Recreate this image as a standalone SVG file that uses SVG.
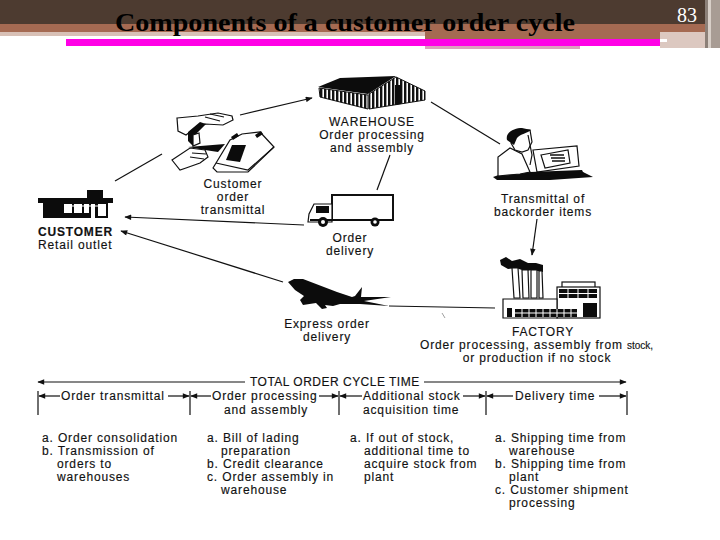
<svg xmlns="http://www.w3.org/2000/svg" width="720" height="540" viewBox="0 0 720 540">
<style>
.t{font-family:"Liberation Sans",Arial,sans-serif;font-size:12px;fill:#111;stroke:#111;stroke-width:.15px;letter-spacing:.85px}
.c{text-anchor:middle}
.l{stroke:#111;stroke-width:1.2;fill:none}
.a{marker-end:url(#ah)}
.k{fill:#0c0c0c}
.o{fill:#fff;stroke:#111;stroke-width:1.2}
</style>
<defs>
<marker id="ah" viewBox="0 0 10 8" refX="9" refY="4" markerWidth="8" markerHeight="5.5" orient="auto" markerUnits="userSpaceOnUse"><path d="M0 0L10 4L0 8Z" fill="#111"/></marker>
<pattern id="st" width="4" height="4" patternUnits="userSpaceOnUse"><rect width="4" height="4" fill="#fff"/><rect width="2.4" height="4" fill="#111"/></pattern>
</defs>
<g id="header">
<rect width="720" height="24" fill="#4d3b30"/>
<rect y="24" width="720" height="8" fill="#a56a52"/>
<rect y="32" width="425" height="4" fill="#d8c0b6"/>
<rect x="425" y="32" width="155" height="17" fill="#dca0be"/>
<rect x="425" y="32" width="235" height="7" fill="#a56a52"/>
<rect x="660" y="32" width="60" height="16" fill="#dcc8c0"/>
<rect x="66" y="39" width="594" height="7" fill="#ff00e6"/>
<rect x="660" y="39" width="7" height="3" fill="#fff"/>
<rect x="705" y="0" width="3" height="48" fill="#8c8078"/>
<rect x="708" y="0" width="3" height="48" fill="#d8cfc8"/>
<rect x="711" y="0" width="9" height="48" fill="#a89c94"/>
<text x="115" y="31" font-family="'Liberation Serif','Times New Roman',serif" font-size="26" font-weight="bold" fill="#000" textLength="460" lengthAdjust="spacingAndGlyphs">Components of a customer order cycle</text>
<text x="677" y="22" font-family="'Liberation Serif','Times New Roman',serif" font-size="20" fill="#fff">83</text>
</g>
<g id="connectors">
<path class="l" d="M115 181L162 154"/>
<path class="l a" d="M240 115L312 98"/>
<path class="l" d="M431 102L500 144"/>
<path class="l" d="M390 155L377 190"/>
<path class="l a" d="M304 225L125 217"/>
<path class="l a" d="M283 282L121 231"/>
<path class="l a" d="M537 219L532 255"/>
<path class="l" d="M389 306L495 308"/>
<path d="M442 313L445 318" stroke="#888" stroke-width=".8" fill="none"/>
</g>
<g id="customer">
<rect class="k" x="87" y="190" width="16" height="9"/>
<rect class="k" x="38" y="198" width="75" height="5"/>
<rect class="k" x="43" y="202" width="65" height="16"/>
<path fill="#fff" d="M64 204h8v9h-8zM74 204h8v9h-8zM84 204h5v9h-5zM91 204h4v14h-4zM98 204h8v12h-8z"/>
<path stroke="#fff" stroke-width="1" d="M64 206h42"/>
<text class="t" x="38" y="236" textLength="75" font-weight="bold">CUSTOMER</text>
<text class="t" x="38" y="249">Retail outlet</text>
</g>
<g id="transmittal">
<path class="o" d="M177 118L198 116L218 113L232 116L233 120L223 125L205 124L195 128L186 135L178 131Z"/>
<path class="l" d="M205 117L220 121M210 114L224 117"/>
<path class="k" d="M188 132L200 122L206 124L197 133L199 142L193 146L188 141Z"/>
<path class="o" d="M193 135L199 133L200 143L193 146Z"/>
<path class="o" d="M213 168L230 140L242 134L260 132L274 147L248 172L217 172Z"/>
<path class="l" d="M216 163L248 170L274 147"/>
<path class="k" d="M226 160L232 145L246 145L240 162Z"/>
<path class="k" d="M231 137l6-4 2 3-6 4zM255 135l6-4 2 3-6 4z"/>
<path class="k" d="M188 147L225 144L218 152L205 150Z"/>
<path class="o" d="M172 160L190 148L205 150L208 157L200 163L186 168L180 170Z"/>
<path class="l" d="M192 153L206 154M190 157L204 159"/>
<text class="t c" x="233" y="188">Customer</text>
<text class="t c" x="233" y="201">order</text>
<text class="t c" x="233" y="214">transmittal</text>
</g>
<g id="warehouse">
<path class="k" d="M318 87L340 78L396 76L368 94Z"/>
<path fill="url(#st)" stroke="#111" d="M319 88L368 95V109L320 97Z"/>
<path fill="url(#st)" stroke="#111" d="M369 94L396 77L425 91V100L369 109Z"/>
<path class="k" d="M395 85h6v19l-6 1z"/>
<text class="t c" x="372" y="126">WAREHOUSE</text>
<text class="t c" x="372" y="139">Order processing</text>
<text class="t c" x="372" y="152">and assembly</text>
</g>
<g id="delivery">
<rect x="332" y="195" width="61" height="25" fill="#fff" stroke="#111" stroke-width="2"/>
<path class="o" d="M308 222L309 214L314 204H332V222Z"/>
<path class="k" d="M316 206h13v7h-13z"/>
<path class="k" d="M310 219H392V221H310z"/>
<circle class="k" cx="323" cy="222" r="5"/><circle cx="323" cy="222" r="2" fill="#fff"/>
<circle class="k" cx="375" cy="222" r="4.5"/><circle cx="375" cy="222" r="1.8" fill="#fff"/>
<text class="t c" x="350" y="242">Order</text>
<text class="t c" x="350" y="255">delivery</text>
</g>
<g id="backorder">
<path class="k" d="M493 177L507 172H583L593 177L550 180H497Z"/>
<path class="o" d="M498 176V157L510 148L522 154L530 172L520 174Z"/>
<path class="o" d="M511 143L518 130L530 130L532 142L528 150L522 152L515 150Z"/>
<path class="k" d="M507 140C505 132 515 128 522 128L531 130C528 133 520 134 517 138L514 145Z"/>
<path class="l" d="M528 135L532 155L530 165"/>
<path class="o" d="M533 150L577 146L579 166L537 172Z"/>
<path class="o" d="M541 155L568 150L570 163L545 168Z"/>
<path d="M550 155h14M551 158h14M552 161h13" stroke="#111" stroke-width="1.6" fill="none"/>
<path class="k" d="M530 172L582 170L584 174L532 176Z"/>
<text class="t c" x="543" y="203">Transmittal of</text>
<text class="t c" x="543" y="216">backorder items</text>
</g>
<g id="express">
<path class="k" d="M288 282L294 279L303 279L337 292L352 297L355 296L362 287L361 297L391 297L364 301L389 306L360 304L340 304L333 306L325 305L327 308L322 309L316 303L303 305L300 300L304 296L295 290Z"/>
<text class="t c" x="327" y="328">Express order</text>
<text class="t c" x="327" y="341">delivery</text>
</g>
<g id="factory">
<path class="k" d="M500 260L506 257L512 261L520 259L528 263L536 263L543 265L543 272L533 270L525 271L516 268L508 269L501 265Z"/>
<path class="o" d="M512 268H518L520 298H514ZM522 270H528L529 298H523ZM531 270H537V298H531ZM539 271H542L543 298H539Z"/>
<rect class="o" x="562" y="282" width="33" height="6"/>
<rect class="o" x="557" y="287" width="43" height="31"/>
<path class="o" d="M503 299H557V318H503Z"/>
<rect class="k" x="559" y="289" width="38" height="9"/>
<path stroke="#fff" stroke-width="1" fill="none" d="M559 293.5H597M568 289V298M578 289V298M588 289V298"/>
<rect class="k" x="583" y="303" width="14" height="14"/>
<rect class="k" x="507" y="308" width="5" height="9"/>
<rect class="k" x="515" y="309" width="62" height="8"/>
<path stroke="#fff" stroke-width="1" fill="none" d="M515 313H577M522 309V317M529 309V317M536 309V317M543 309V317M550 309V317M557 309V317M564 309V317M571 309V317"/>
<text class="t c" x="543" y="336">FACTORY</text>
<text class="t" x="420" y="349" textLength="233">Order processing, assembly from <tspan font-size="10" letter-spacing="0">stock,</tspan></text>
<text class="t c" x="537" y="362">or production if no stock</text>
</g>
<g id="timeline">
<path class="l a" d="M245 382H38"/>
<path class="l a" d="M424 382H626"/>
<text class="t" x="250" y="386" textLength="170">TOTAL ORDER CYCLE TIME</text>
<path class="l" d="M38 391V415M190 391V415M339 391V415M486 391V415M627 391V415"/>
<path class="l a" d="M60 396H39"/>
<path class="l a" d="M168 396H189"/>
<path class="l a" d="M211 396H191"/>
<path class="l a" d="M319 396H338"/>
<path class="l a" d="M362 396H340"/>
<path class="l a" d="M463 396H485"/>
<path class="l a" d="M513 396H487"/>
<path class="l a" d="M599 396H626"/>
<text class="t" x="61" y="400">Order transmittal</text>
<text class="t" x="212" y="400">Order processing</text>
<text class="t c" x="266" y="414">and assembly</text>
<text class="t" x="363" y="400">Additional stock</text>
<text class="t" x="363" y="414">acquisition time</text>
<text class="t" x="515" y="400">Delivery time</text>
</g>
<g id="col1">
<text class="t" x="42" y="442">a. Order consolidation</text>
<text class="t" x="42" y="455">b. Transmission of</text>
<text class="t" x="57" y="468">orders to</text>
<text class="t" x="57" y="481">warehouses</text>
</g>
<g id="col2">
<text class="t" x="207" y="442">a. Bill of lading</text>
<text class="t" x="221" y="455">preparation</text>
<text class="t" x="207" y="468">b. Credit clearance</text>
<text class="t" x="207" y="481">c. Order assembly in</text>
<text class="t" x="221" y="494">warehouse</text>
</g>
<g id="col3">
<text class="t" x="350" y="442">a. If out of stock,</text>
<text class="t" x="364" y="455">additional time to</text>
<text class="t" x="364" y="468">acquire stock from</text>
<text class="t" x="364" y="481">plant</text>
</g>
<g id="col4">
<text class="t" x="495" y="442">a. Shipping time from</text>
<text class="t" x="509" y="455">warehouse</text>
<text class="t" x="495" y="468">b. Shipping time from</text>
<text class="t" x="509" y="481">plant</text>
<text class="t" x="495" y="494">c. Customer shipment</text>
<text class="t" x="509" y="507">processing</text>
</g>
</svg>
